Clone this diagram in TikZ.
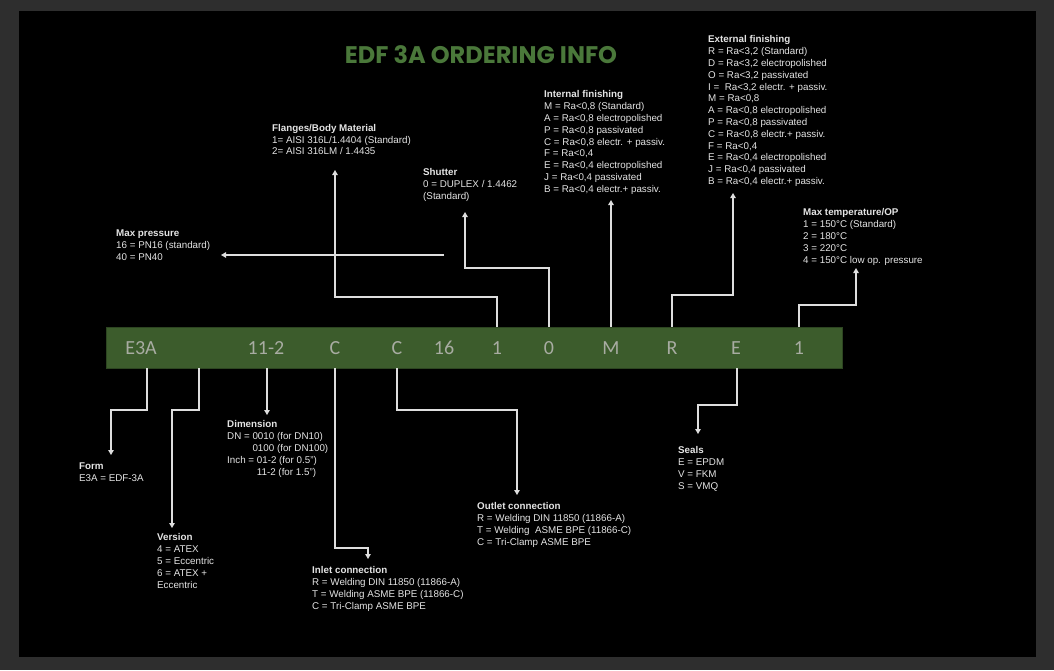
\documentclass[tikz,border=0pt]{standalone}
\usepackage{fontspec}
\setmainfont{Liberation Sans}
\newfontfamily\barfont{Carlito}
\newfontfamily\titlefont{Poppins}
\usepackage{tikz}
\usetikzlibrary{arrows.meta}
\definecolor{framegray}{RGB}{46,46,46}
\definecolor{bargreen}{RGB}{60,92,44}
\definecolor{titlegreen}{RGB}{74,120,58}
\definecolor{codegray}{RGB}{168,172,162}
\definecolor{infowhite}{RGB}{228,228,228}
\definecolor{linegray}{RGB}{222,222,222}

\begin{document}
\begin{tikzpicture}[x=1pt,y=-1pt,
    info/.style={anchor=north west,align=left,inner sep=0pt,text=infowhite,
      font=\fontsize{9.8}{11.8}\selectfont},
    code/.style={inner sep=0pt,text=codegray,font=\barfont\fontsize{20}{20}\selectfont},
    conn/.style={draw=linegray,line width=1.1pt,-{Triangle[width=5.5pt,length=5pt]}}]
    % background
    \fill[framegray] (0,0) rectangle (1054,670);
    \fill[black] (19,11) rectangle (1036,657);
    \node[font=\titlefont\bfseries\fontsize{24}{24}\selectfont,text=titlegreen]
      (title) at (481,55) {EDF 3A ORDERING INFO};
    % code bar
    \node[draw=bargreen!75!black,fill=bargreen,minimum width=736pt,
      minimum height=41pt,inner sep=0pt] (bar) at (474,347.5) {};
    \foreach \n/\x/\t in {form/141/E3A,dim/266/11-2,inl/335/C,outl/397/C,
      pres/444/16,flan/497/1,shut/549/0,intf/611/M,extf/672/R,seal/736/E,temp/799/1}
      \node[code] (k-\n) at (\x,348) {\t};
    \foreach \n/\x in {form/147,ver/199,dim/267,inl/335,outl/397,seal/737}
      \coordinate (d-\n) at (\x,368);
    \foreach \n/\x in {flan/497,shut/549,intf/611,extf/672,temp/799}
      \coordinate (u-\n) at (\x,327);
    % upper fields
    \node[info] (flan) at (272,124) {\textbf{Flanges/Body Material}\\
      1= AISI 316L/1.4404 (Standard)\\2= AISI 316LM / 1.4435};
    \node[info] (shut) at (423,168.5) {\textbf{Shutter}\\
      0 = DUPLEX / 1.4462\\(Standard)};
    \node[info] (intf) at (544,90.5) {\textbf{Internal finishing}\\
      M = Ra<0,8 (Standard)\\A = Ra<0,8 electropolished\\
      P = Ra<0,8 passivated\\C = Ra<0,8 electr. + passiv.\\
      F = Ra<0,4\\E = Ra<0,4 electropolished\\
      J = Ra<0,4 passivated\\B = Ra<0,4 electr.+ passiv.};
    \node[info] (extf) at (708,35.5) {\textbf{External finishing}\\
      R = Ra<3,2 (Standard)\\D = Ra<3,2 electropolished\\
      O = Ra<3,2 passivated\\I =\ \ Ra<3,2 electr. + passiv.\\
      M = Ra<0,8\\A = Ra<0,8 electropolished\\
      P = Ra<0,8 passivated\\C = Ra<0,8 electr.+ passiv.\\
      F = Ra<0,4\\E = Ra<0,4 electropolished\\
      J = Ra<0,4 passivated\\B = Ra<0,4 electr.+ passiv.};
    \node[info] (temp) at (803,208.5) {\textbf{Max temperature/OP}\\
      1 = 150°C (Standard)\\2 = 180°C\\3 = 220°C\\4 = 150°C low op. pressure};
    \node[info] (pres) at (116,229.5) {\textbf{Max pressure}\\
      16 = PN16 (standard)\\40 = PN40};
    % lower fields
    \node[info] (form) at (79,462.5) {\textbf{Form}\\E3A = EDF-3A};
    \node[info] (ver) at (157,533.5) {\textbf{Version}\\
      4 = ATEX\\5 = Eccentric\\6 = ATEX +\\Eccentric};
    \node[info] (dim) at (227,420.5) {\textbf{Dimension}\\
      DN = 0010 (for DN10)\\\phantom{DN = }0100 (for DN100)\\
      Inch = 01-2 (for 0.5”)\\\phantom{Inch = }11-2 (for 1.5”)};
    \node[info] (inl) at (312,566.5) {\textbf{Inlet connection}\\
      R = Welding DIN 11850 (11866-A)\\T = Welding ASME BPE (11866-C)\\
      C = Tri-Clamp ASME BPE};
    \node[info] (outl) at (477,502.5) {\textbf{Outlet connection}\\
      R = Welding DIN 11850 (11866-A)\\T = Welding\ \ ASME BPE (11866-C)\\
      C = Tri-Clamp ASME BPE};
    \node[info] (seal) at (678,446.5) {\textbf{Seals}\\
      E = EPDM\\V = FKM\\S = VMQ};
    % arrow tips
    \coordinate (flan-tip) at (335,170);
    \coordinate (shut-tip) at (465,212);
    \coordinate (intf-tip) at (611,200);
    \coordinate (extf-tip) at (733,193);
    \coordinate (temp-tip) at (856,268);
    \coordinate (pres-tip) at (221,255);
    \coordinate (pres-end) at (444,255);
    \coordinate (form-tip) at (111,455);
    \coordinate (ver-tip) at (172,528);
    \coordinate (dim-tip) at (267,415);
    \coordinate (inl-tip) at (368,559);
    \coordinate (outl-tip) at (517,495);
    \coordinate (seal-tip) at (698,434);
    % connectors
    \draw[conn] (u-flan) -- ++(0,-30) -| (flan-tip);
    \draw[conn] (u-shut) -- ++(0,-59) -| (shut-tip);
    \draw[conn] (u-intf) -- (intf-tip);
    \draw[conn] (u-extf) -- ++(0,-32) -| (extf-tip);
    \draw[conn] (u-temp) -- ++(0,-22) -| (temp-tip);
    \draw[conn] (pres-end) -- (pres-tip);
    \draw[conn] (d-form) -- ++(0,42) -| (form-tip);
    \draw[conn] (d-ver) -- ++(0,42) -| (ver-tip);
    \draw[conn] (d-dim) -- (dim-tip);
    \draw[conn] (d-inl) -- ++(0,180) -| (inl-tip);
    \draw[conn] (d-outl) -- ++(0,42) -| (outl-tip);
    \draw[conn] (d-seal) -- ++(0,37) -| (seal-tip);
\end{tikzpicture}
\end{document}
